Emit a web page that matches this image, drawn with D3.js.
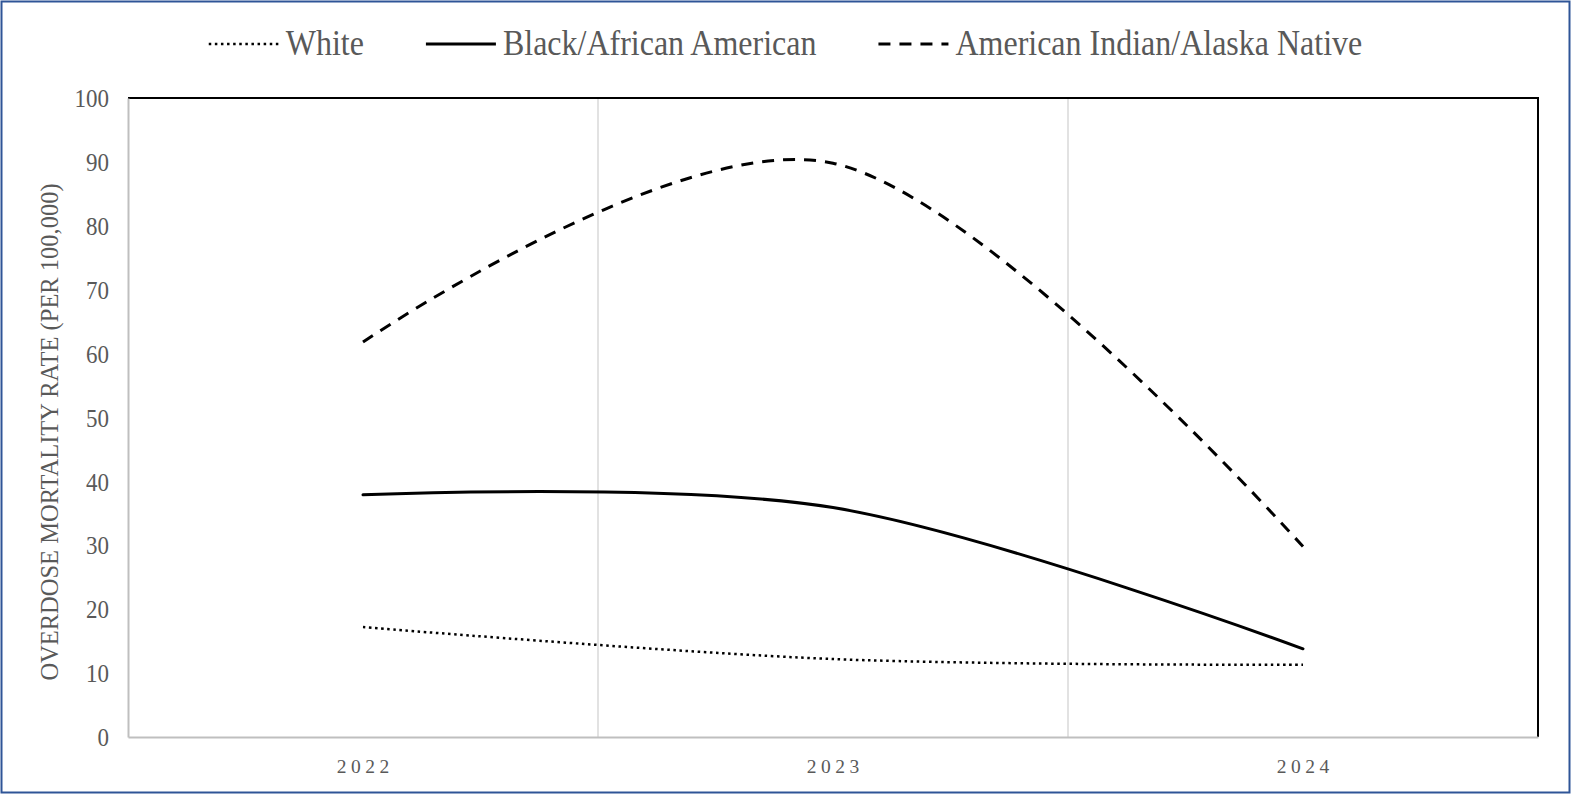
<!DOCTYPE html>
<html>
<head>
<meta charset="utf-8">
<script src="https://cdn.jsdelivr.net/npm/d3@7"></script>
<style>
  body { margin: 0; background: #fff; }
  text { font-family: "Liberation Serif", "Times New Roman", serif; }
</style>
</head>
<body>
<div id="chart"></div>
<script>
// data
var years = ["2022", "2023", "2024"];
var white = [17.2, 12.2, 11.3];
var black = [37.9, 35.9, 13.8];
var aian = [61.8, 89.8, 29.8];
var yTicks = [0, 10, 20, 30, 40, 50, 60, 70, 80, 90, 100];

var seriesNames = ["White", "Black/African American", "American Indian/Alaska Native"];

function main(){
    var canvasWidth = 1571;
    var canvasHeight = 795;
    var plot = {left: 128, right: 1538, top: 98, bottom: 737};
    var textColor = "#595959";
    var stretch = 1.1; // text in the picture is a bit taller than wide

    var svg = d3.select("#chart").append("svg")
        .attr("width", canvasWidth)
        .attr("height", canvasHeight)

    // outer frame
    svg.append("rect")
        .attr("x", 1.5).attr("y", 1.5)
        .attr("width", canvasWidth - 3).attr("height", canvasHeight - 4)
        .attr("fill", "white")
        .attr("stroke", "#2f5597")
        .attr("stroke-width", 2)

    var xScale = d3.scaleBand().domain(years).range([plot.left, plot.right]);
    var yScale = d3.scaleLinear().domain([0, 100]).range([plot.bottom, plot.top]);

    // vertical gridlines between categories
    svg.append("g").selectAll("line")
        .data(years.slice(1))
        .enter().append("line")
        .attr("x1", d => xScale(d)).attr("x2", d => xScale(d))
        .attr("y1", plot.top).attr("y2", plot.bottom)
        .attr("stroke", "#d9d9d9")
        .attr("stroke-width", 1.5)

    // top and right border (black)
    svg.append("path")
        .attr("d", "M" + plot.left + "," + plot.top + "H" + plot.right + "V" + plot.bottom)
        .attr("fill", "none")
        .attr("stroke", "black")
        .attr("stroke-width", 2)

    // left axis
    var yAxis = svg.append("g")
        .attr("transform", "translate(" + plot.left + ",0)")
        .call(d3.axisLeft(yScale).tickValues(yTicks).tickSize(0).tickPadding(19))
    yAxis.select(".domain").attr("stroke", "#bfbfbf").attr("stroke-width", 2)
    yAxis.selectAll("text")
        .attr("font-size", "23px")
        .attr("font-family", "Liberation Serif")
        .attr("fill", textColor)
        .attr("dy", "0.34em")
        .attr("transform", "scale(1," + stretch + ")")

    // bottom axis
    var xAxis = svg.append("g")
        .attr("transform", "translate(0," + plot.bottom + ")")
        .call(d3.axisBottom(xScale).tickSize(0).tickPadding(18))
    xAxis.select(".domain").attr("stroke", "#bfbfbf").attr("stroke-width", 2)
    xAxis.selectAll("text")
        .attr("font-size", "19.5px")
        .attr("font-family", "Liberation Serif")
        .attr("fill", textColor)
        .attr("letter-spacing", "4.5px")
        .attr("dx", "2.25px")
        .attr("dy", "0.9em")

    // y axis title
    svg.append("text")
        .attr("transform", "translate(58,432) rotate(-90)")
        .attr("text-anchor", "middle")
        .attr("font-size", "24.5px")
        .attr("fill", textColor)
        .text("OVERDOSE MORTALITY RATE (PER 100,000)")

    var styles = [
        {width: 2.5, dash: "2.5,3.6", cap: "butt"},
        {width: 3, dash: null, cap: "round"},
        {width: 3, dash: "12,9", cap: "butt"}
    ];
    var allSeries = [white, black, aian];

    var line = d3.line()
        .x((d, i) => xScale(years[i]) + xScale.bandwidth() / 2)
        .y(d => yScale(d))
        .curve(d3.curveCardinal.tension(0));

    svg.append("g").selectAll("path")
        .data(allSeries)
        .enter().append("path")
        .attr("d", d => line(d))
        .attr("fill", "none")
        .attr("stroke", "black")
        .attr("stroke-width", (d, i) => styles[i].width)
        .attr("stroke-dasharray", (d, i) => styles[i].dash)
        .attr("stroke-linecap", (d, i) => styles[i].cap)

    // legend
    var legend = svg.append("g")
    var legendY = 44;
    var sampleLen = 70;
    var xPos = 0;
    seriesNames.forEach(function(name, i){
        var g = legend.append("g").attr("transform", "translate(" + xPos + ",0)");
        g.append("line")
            .attr("x1", 0).attr("x2", sampleLen)
            .attr("y1", legendY).attr("y2", legendY)
            .attr("stroke", "black")
            .attr("stroke-width", styles[i].width)
            .attr("stroke-dasharray", styles[i].dash)
        var t = g.append("text")
            .attr("transform", "translate(" + (sampleLen + 7) + "," + (legendY + 11) + ") scale(1," + stretch + ")")
            .attr("font-size", "32px")
            .attr("fill", textColor)
            .text(name)
        xPos += sampleLen + 7 + t.node().getComputedTextLength() + 62;
    });
    var legendWidth = xPos - 62;
    legend.attr("transform", "translate(" + (canvasWidth / 2 - legendWidth / 2) + ",0)")
}
main();
</script>
</body>
</html>
